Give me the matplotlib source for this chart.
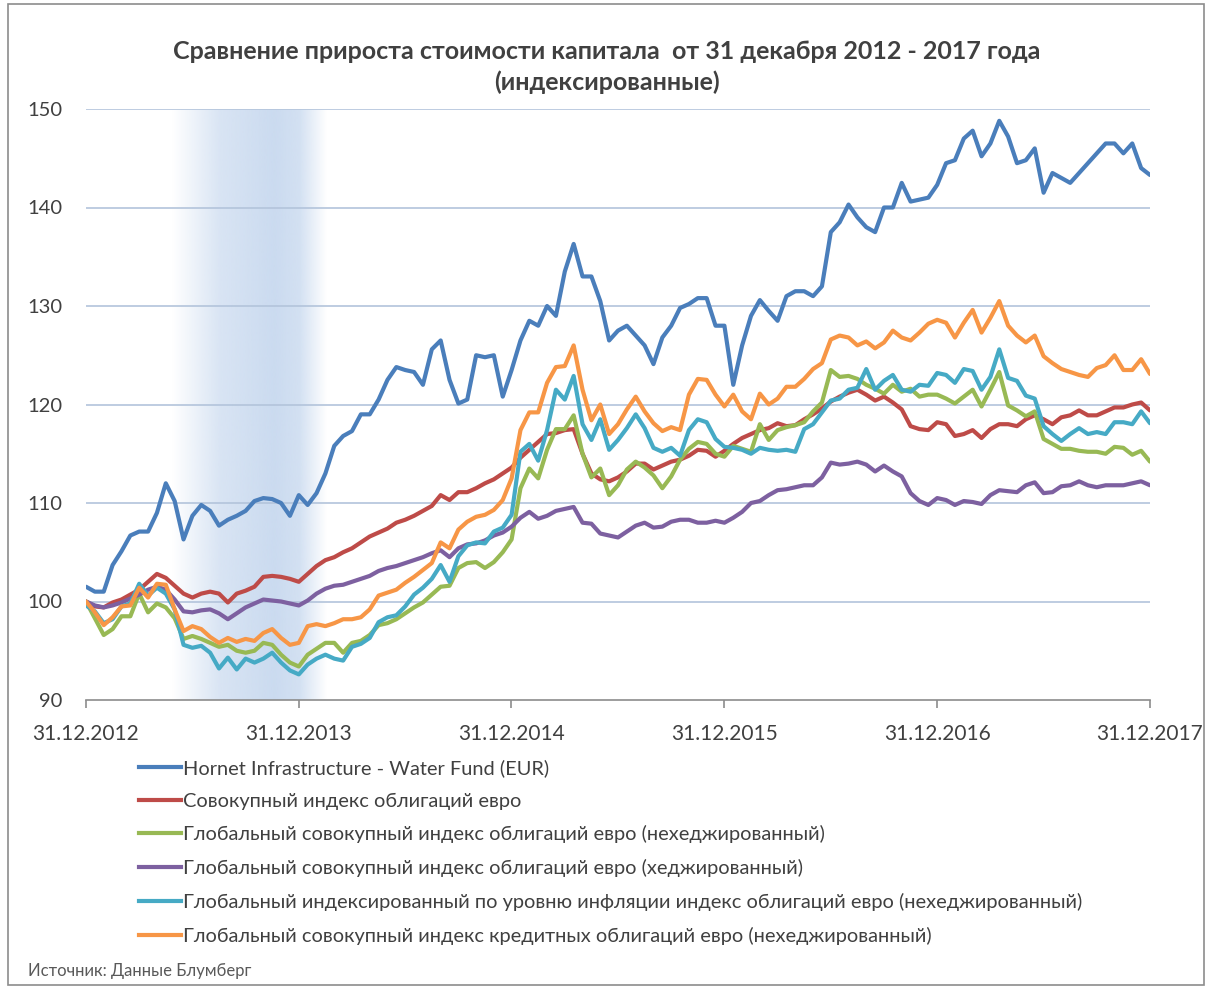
import numpy as np
import pandas as pd
import matplotlib
matplotlib.use("Agg")
import matplotlib.pyplot as plt
import matplotlib.dates as mdates
from matplotlib.patches import Rectangle
from matplotlib.lines import Line2D

plt.rcParams['font.family'] = ['Lato', 'DejaVu Sans']

# ---------------- data (semi-monthly samples, 31.12.2012 - 31.12.2017) ----------------
dates = pd.date_range('2012-12-31', '2017-12-31', periods=121)

hornet = [101.5, 101.0, 101.0, 103.7, 105.1, 106.7, 107.1, 107.1, 109.0, 112.0,
          110.2, 106.3, 108.7, 109.8, 109.2, 107.7, 108.3, 108.7, 109.2, 110.2,
          110.5, 110.4, 110.0, 108.7, 110.8, 109.8, 111.0, 113.0, 115.8, 116.8,
          117.3, 119.0, 119.0, 120.5, 122.5, 123.8, 123.5, 123.3, 122.0, 125.6,
          126.5, 122.5, 120.1, 120.5, 125.0, 124.8, 125.0, 120.8, 123.5, 126.5,
          128.5, 128.0, 130.0, 129.0, 133.5, 136.3, 133.0, 133.0, 130.5, 126.5,
          127.5, 128.0, 127.0, 126.0, 124.1, 126.8, 128.0, 129.8, 130.2, 130.8,
          130.8, 128.0, 128.0, 122.0, 126.0, 129.0, 130.6, 129.5, 128.5, 131.0,
          131.5, 131.5, 131.0, 132.0, 137.5, 138.5, 140.3, 139.0, 138.0, 137.5,
          140.0, 140.0, 142.5, 140.6, 140.8, 141.0, 142.3, 144.5, 144.8, 147.0,
          147.8, 145.2, 146.5, 148.8, 147.2, 144.5, 144.8, 146.0, 141.5, 143.5,
          143.0, 142.5, 143.5, 144.5, 145.5, 146.5, 146.5, 145.5, 146.5, 144.0,
          143.3]

euro_agg = [100.0, 99.5, 99.4, 99.9, 100.2, 100.7, 101.2, 102.0, 102.8, 102.4,
            101.6, 100.8, 100.4, 100.8, 101.0, 100.8, 99.9, 100.8, 101.1, 101.5,
            102.5, 102.6, 102.5, 102.3, 102.0, 102.8, 103.6, 104.2, 104.5, 105.0,
            105.4, 106.0, 106.6, 107.0, 107.4, 108.0, 108.3, 108.7, 109.2, 109.7,
            110.8, 110.3, 111.1, 111.1, 111.5, 112.0, 112.4, 113.0, 113.6, 114.6,
            115.4, 116.2, 117.0, 117.1, 117.4, 117.5, 115.0, 113.0, 112.4, 112.2,
            112.6, 113.2, 114.0, 114.0, 113.4, 113.8, 114.2, 114.4, 114.8, 115.4,
            115.3, 114.7, 115.3, 116.0, 116.6, 117.0, 117.4, 117.6, 118.1, 117.8,
            117.9, 118.5, 119.0, 119.6, 120.3, 120.8, 121.2, 121.5, 121.0, 120.4,
            120.8, 120.2, 119.5, 117.8, 117.5, 117.4, 118.2, 118.0, 116.8, 117.0,
            117.4, 116.6, 117.5, 118.0, 118.0, 117.8, 118.5, 118.9, 118.5, 118.0,
            118.7, 118.9, 119.4, 118.9, 118.9, 119.3, 119.7, 119.7, 120.0, 120.2,
            119.4]

global_unhedged = [100.0, 98.3, 96.6, 97.2, 98.5, 98.5, 100.8, 98.9, 99.8, 99.4,
                   98.3, 96.2, 96.5, 96.2, 95.8, 95.4, 95.6, 95.0, 94.8, 95.0,
                   95.8, 95.6, 94.6, 93.8, 93.4, 94.6, 95.2, 95.8, 95.8, 94.8,
                   95.8, 96.0, 96.6, 97.6, 97.8, 98.2, 98.8, 99.4, 99.9, 100.7,
                   101.5, 101.6, 103.4, 103.9, 104.0, 103.4, 104.0, 105.0, 106.3, 111.5,
                   113.5, 112.5, 115.4, 117.5, 117.5, 118.9, 115.0, 112.6, 113.5, 110.8,
                   111.8, 113.4, 114.2, 113.6, 112.8, 111.5, 112.7, 114.4, 115.5, 116.2,
                   116.0, 115.0, 114.7, 115.8, 115.5, 115.2, 118.0, 116.4, 117.4, 117.7,
                   117.9, 118.2, 119.3, 120.2, 123.5, 122.8, 122.9, 122.6, 122.0, 121.6,
                   121.1, 122.0, 121.3, 121.6, 120.8, 121.0, 121.0, 120.6, 120.1, 120.8,
                   121.5, 119.8, 121.5, 123.3, 119.9, 119.4, 118.8, 119.3, 116.5, 116.0,
                   115.5, 115.5, 115.3, 115.2, 115.2, 115.0, 115.7, 115.6, 114.9, 115.3,
                   114.2]

global_hedged = [100.0, 99.6, 99.4, 99.6, 99.9, 100.3, 100.7, 101.2, 101.5, 101.2,
                 100.2, 99.0, 98.9, 99.1, 99.2, 98.8, 98.2, 98.8, 99.4, 99.8,
                 100.2, 100.1, 100.0, 99.8, 99.6, 100.1, 100.8, 101.3, 101.6, 101.7,
                 102.0, 102.3, 102.6, 103.1, 103.4, 103.6, 103.9, 104.2, 104.5, 104.9,
                 105.2, 104.5, 105.4, 105.8, 105.9, 106.2, 106.7, 107.0, 107.6, 108.5,
                 109.1, 108.4, 108.7, 109.2, 109.4, 109.6, 108.0, 107.9, 106.9, 106.7,
                 106.5, 107.1, 107.7, 108.0, 107.5, 107.6, 108.1, 108.3, 108.3, 108.0,
                 108.0, 108.2, 108.0, 108.5, 109.1, 110.0, 110.2, 110.8, 111.3, 111.4,
                 111.6, 111.8, 111.8, 112.6, 114.1, 113.9, 114.0, 114.2, 113.9, 113.2,
                 113.8, 113.2, 112.7, 111.0, 110.2, 109.8, 110.5, 110.3, 109.8, 110.2,
                 110.1, 109.9, 110.8, 111.3, 111.2, 111.1, 111.8, 112.1, 111.0, 111.1,
                 111.7, 111.8, 112.2, 111.8, 111.6, 111.8, 111.8, 111.8, 112.0, 112.2,
                 111.8]

inflation_linked = [99.6, 99.0, 97.8, 98.2, 99.5, 99.8, 101.8, 100.6, 101.4, 100.8,
                    99.2, 95.6, 95.3, 95.5, 94.8, 93.2, 94.3, 93.1, 94.2, 93.8,
                    94.2, 94.8, 93.8, 93.0, 92.6, 93.6, 94.2, 94.6, 94.2, 94.0,
                    95.4, 95.7, 96.3, 97.9, 98.4, 98.6, 99.5, 100.7, 101.4, 102.3,
                    103.7, 102.0, 104.6, 105.7, 106.0, 105.9, 107.1, 107.5, 108.8, 115.2,
                    116.0, 114.3, 117.4, 121.5, 120.5, 122.9, 118.0, 116.4, 118.5, 115.4,
                    116.4, 117.6, 119.0, 117.6, 115.6, 115.2, 115.6, 114.8, 117.4, 118.5,
                    118.2, 116.5, 115.7, 115.6, 115.4, 115.0, 115.6, 115.4, 115.3, 115.4,
                    115.2, 117.5, 118.0, 119.2, 120.4, 120.6, 121.5, 121.7, 123.6, 121.5,
                    122.4, 123.0, 121.5, 121.3, 122.0, 121.9, 123.2, 123.0, 122.2, 123.6,
                    123.4, 121.5, 122.8, 125.6, 122.7, 122.4, 120.9, 120.6, 117.8, 117.0,
                    116.3, 117.0, 117.6, 117.0, 117.2, 117.0, 118.2, 118.2, 118.0, 119.3,
                    118.1]

credit = [100.0, 98.9, 97.6, 98.4, 99.5, 99.6, 101.4, 100.4, 101.8, 101.7,
          99.2, 97.0, 97.5, 97.2, 96.4, 95.8, 96.3, 95.9, 96.2, 96.0,
          96.8, 97.2, 96.3, 95.6, 95.8, 97.5, 97.7, 97.5, 97.8, 98.2,
          98.2, 98.4, 99.2, 100.6, 100.9, 101.2, 101.9, 102.5, 103.2, 103.9,
          106.0, 105.4, 107.3, 108.1, 108.6, 108.8, 109.3, 110.3, 112.5, 117.4,
          119.2, 119.2, 122.2, 123.8, 123.9, 126.0, 121.5, 118.4, 120.0, 117.0,
          118.0, 119.5, 120.8, 119.3, 118.1, 117.3, 117.7, 117.4, 121.0, 122.6,
          122.5, 121.0, 119.8, 121.0, 119.3, 118.5, 121.1, 120.0, 120.6, 121.8,
          121.8, 122.6, 123.6, 124.2, 126.6, 127.0, 126.8, 126.0, 126.4, 125.7,
          126.3, 127.5, 126.8, 126.5, 127.3, 128.2, 128.6, 128.3, 126.8, 128.3,
          129.6, 127.3, 128.8, 130.5, 128.0, 127.0, 126.3, 127.0, 124.9, 124.2,
          123.6, 123.3, 123.0, 122.8, 123.7, 124.0, 125.0, 123.5, 123.5, 124.6,
          123.1]

series_labels = [
    "Hornet Infrastructure - Water Fund (EUR)",
    "Совокупный индекс облигаций евро",
    "Глобальный совокупный индекс облигаций евро (нехеджированный)",
    "Глобальный совокупный индекс облигаций евро (хеджированный)",
    "Глобальный индексированный по уровню инфляции индекс облигаций евро (нехеджированный)",
    "Глобальный совокупный индекс кредитных облигаций евро (нехеджированный)",
]
series_values = [hornet, euro_agg, global_unhedged, global_hedged, inflation_linked, credit]
series_colors = ['#4A7EBB', '#BE4B48', '#98B954', '#7D60A0', '#46AAC5', '#F79646']

year_ticks = pd.to_datetime(['2012-12-31', '2013-12-31', '2014-12-31',
                             '2015-12-31', '2016-12-31', '2017-12-31'])
year_labels = ['31.12.2012', '31.12.2013', '31.12.2014', '31.12.2015', '31.12.2016', '31.12.2017']
y_ticks = [90, 100, 110, 120, 130, 140, 150]
# shaded period: gradient stops (date, relative intensity)
shade_dates = pd.to_datetime(['2013-05-28', '2013-08-19', '2013-11-20', '2014-01-02', '2014-02-18'])
shade_level = [0.0, 0.7, 0.95, 0.8, 0.0]
title = "Сравнение прироста стоимости капитала  от 31 декабря 2012 - 2017 года\n(индексированные)"
source = "Источник: Данные Блумберг"

# ---------------- figure ----------------
W, H = 1214, 989
fig = plt.figure(figsize=(W / 100, H / 100), dpi=100)
fig.patches.append(Rectangle((8 / W, 4 / H), 1196 / W, 981 / H, transform=fig.transFigure,
                             fill=False, edgecolor='#8c8c8c', linewidth=1.2))

ax = fig.add_axes([86 / W, 1 - 700 / H, (1150 - 86) / W, (700 - 109) / H])
ax.set_xlim(year_ticks[0], year_ticks[-1])
ax.set_ylim(90, 150)

# shaded period (gradient band)
sd = mdates.date2num(shade_dates)
xs = np.linspace(sd[0], sd[-1], 400)
alpha = np.interp(xs, sd, shade_level)
rgba = np.zeros((1, len(xs), 4))
rgba[..., 0] = 0xC8 / 255; rgba[..., 1] = 0xD9 / 255; rgba[..., 2] = 0xEF / 255
rgba[0, :, 3] = alpha
ax.imshow(rgba, extent=[sd[0], sd[-1], 90, 150], aspect='auto', zorder=0,
          interpolation='bilinear')

for yv in y_ticks[1:]:
    ax.axhline(yv, color='#B3C4DB', linewidth=1.2, zorder=1)

for vals, col, lab in zip(series_values, series_colors, series_labels):
    ax.plot(dates, vals, color=col, linewidth=3.0, label=lab, zorder=3,
            solid_joinstyle='round', solid_capstyle='round')

for s in ['top', 'right', 'left']:
    ax.spines[s].set_visible(False)
ax.spines['bottom'].set_color('#8c8c8c')
ax.spines['bottom'].set_linewidth(1.2)

ax.set_xticks(year_ticks)
ax.set_xticklabels(year_labels)
ax.tick_params(axis='x', direction='out', length=6, width=1.2, color='#8c8c8c',
               labelsize=15, labelcolor='#404040', pad=11)
ax.set_yticks(y_ticks)
ax.tick_params(axis='y', length=0, labelsize=14.5, labelcolor='#404040', pad=17)

fig.text(0.5, 1 - 67 / H, title, ha='center', va='center', fontsize=18,
         fontweight='bold', color='#404040', linespacing=1.35)

handles = [Line2D([], [], color=c, linewidth=3.0) for c in series_colors]
leg = fig.legend(handles, series_labels, loc='upper left',
                 bbox_to_anchor=(139 / W, 1 - 759 / H), frameon=False,
                 fontsize=14.4, handlelength=2.1, handletextpad=0.1,
                 labelspacing=0.785, borderaxespad=0, borderpad=0)
for t in leg.get_texts():
    t.set_color('#404040')

fig.text(28 / W, 1 - 971 / H, source, ha='left', va='center', fontsize=12, color='#595959')

fig.savefig('out.png', dpi=100, facecolor='white')
